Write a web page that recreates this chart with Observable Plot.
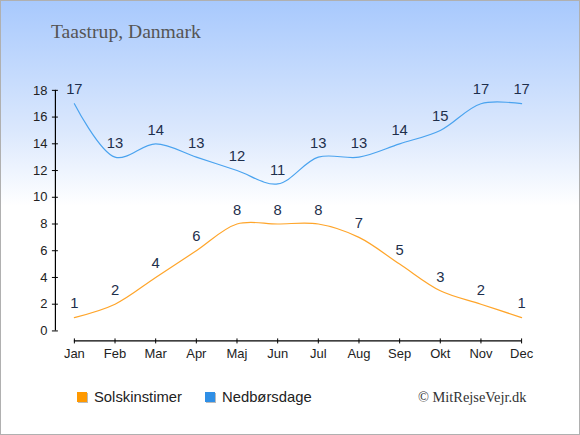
<!DOCTYPE html>
<html>
<head>
<meta charset="utf-8">
<script src="https://cdn.jsdelivr.net/npm/d3@7"></script>
<script src="https://cdn.jsdelivr.net/npm/@observablehq/plot@0.6"></script>
<style>
  html, body { margin: 0; padding: 0; background: #fff; }
  #wrap {
    position: relative; width: 578px; height: 433px;
    border: 1px solid #b0b0b0;
    background: linear-gradient(to bottom, #a8c9fd 0px, #dbe8fd 130px, #ffffff 205px, #ffffff 100%);
    overflow: hidden;
  }
  #chart { position: absolute; left: -1px; top: -1px; }
  #title {
    position: absolute; left: 50px; top: 20px;
    font-family: "Liberation Serif", serif; font-size: 19.6px; color: #555;
  }
  .leg {
    position: absolute; top: 388px; font-family: "Liberation Sans", Arial, sans-serif;
    font-size: 14.8px; color: #222; display: flex; align-items: center;
  }
  .sw { width: 10px; height: 10px; margin-right: 7px; box-shadow: 1px 1px 0 #bbb; }
  #copy {
    position: absolute; left: 417px; top: 388px;
    font-family: "Liberation Serif", serif; font-size: 14.4px; color: #333;
  }
</style>
</head>
<body>
<div id="wrap">
  <div id="chart"></div>
  <div id="title">Taastrup, Danmark</div>
  <div class="leg" style="left:76px"><span class="sw" style="background:#ff9900"></span>Solskinstimer</div>
  <div class="leg" style="left:204px"><span class="sw" style="background:#2f8fe6"></span>Nedbørsdage</div>
  <div id="copy">© MitRejseVejr.dk</div>
</div>
<script>
const months = ["Jan","Feb","Mar","Apr","Maj","Jun","Jul","Aug","Sep","Okt","Nov","Dec"];
const sunHours = [1,2,4,6,8,8,8,7,5,3,2,1];
const rainDays = [17,13,14,13,12,11,13,13,14,15,17,17];
const yTicks = [0,2,4,6,8,10,12,14,16,18];

const sun = months.map((m, i) => ({i, m, v: sunHours[i]}));
const rain = months.map((m, i) => ({i, m, v: rainDays[i]}));

const chart = Plot.plot({
  width: 580,
  height: 435,
  marginTop: 90,
  marginBottom: 104,
  marginLeft: 74,
  marginRight: 58,
  style: {background: "transparent", fontFamily: "Liberation Sans, Arial, sans-serif", fontSize: "13px", color: "#222"},
  x: {type: "linear", domain: [0, 11]},
  y: {domain: [0, 18]},
  marks: [
    Plot.axisY({ticks: yTicks, tickSize: 6, dx: -16, tickPadding: 5, label: null, fontSize: 13, stroke: "#000", fill: "#222"}),
    Plot.ruleX([0], {y1: 0, y2: 18, dx: -19, stroke: "#000", strokeWidth: 1.2}),
    Plot.axisX({ticks: d3.range(months.length), tickFormat: i => months[i], tickSize: 5, dy: 8, tickPadding: 5, label: null, fontSize: 13, stroke: "#000", fill: "#222"}),
    Plot.ruleY([0], {x1: 0, x2: 11, dy: 10, stroke: "#000", strokeWidth: 1.2}),
    Plot.line(rain, {x: "i", y: "v", curve: "catmull-rom", stroke: "#4aa3ef", strokeWidth: 1.2}),
    Plot.line(sun, {x: "i", y: "v", curve: "catmull-rom", stroke: "#ffa52a", strokeWidth: 1.2}),
    Plot.text(rain, {x: "i", y: "v", text: d => String(d.v), dy: -14, fill: "#1e2f4c", fontSize: 14.8}),
    Plot.text(sun, {x: "i", y: "v", text: d => String(d.v), dy: -14, fill: "#1e2f4c", fontSize: 14.8})
  ]
});
document.getElementById("chart").appendChild(chart);
</script>
</body>
</html>
